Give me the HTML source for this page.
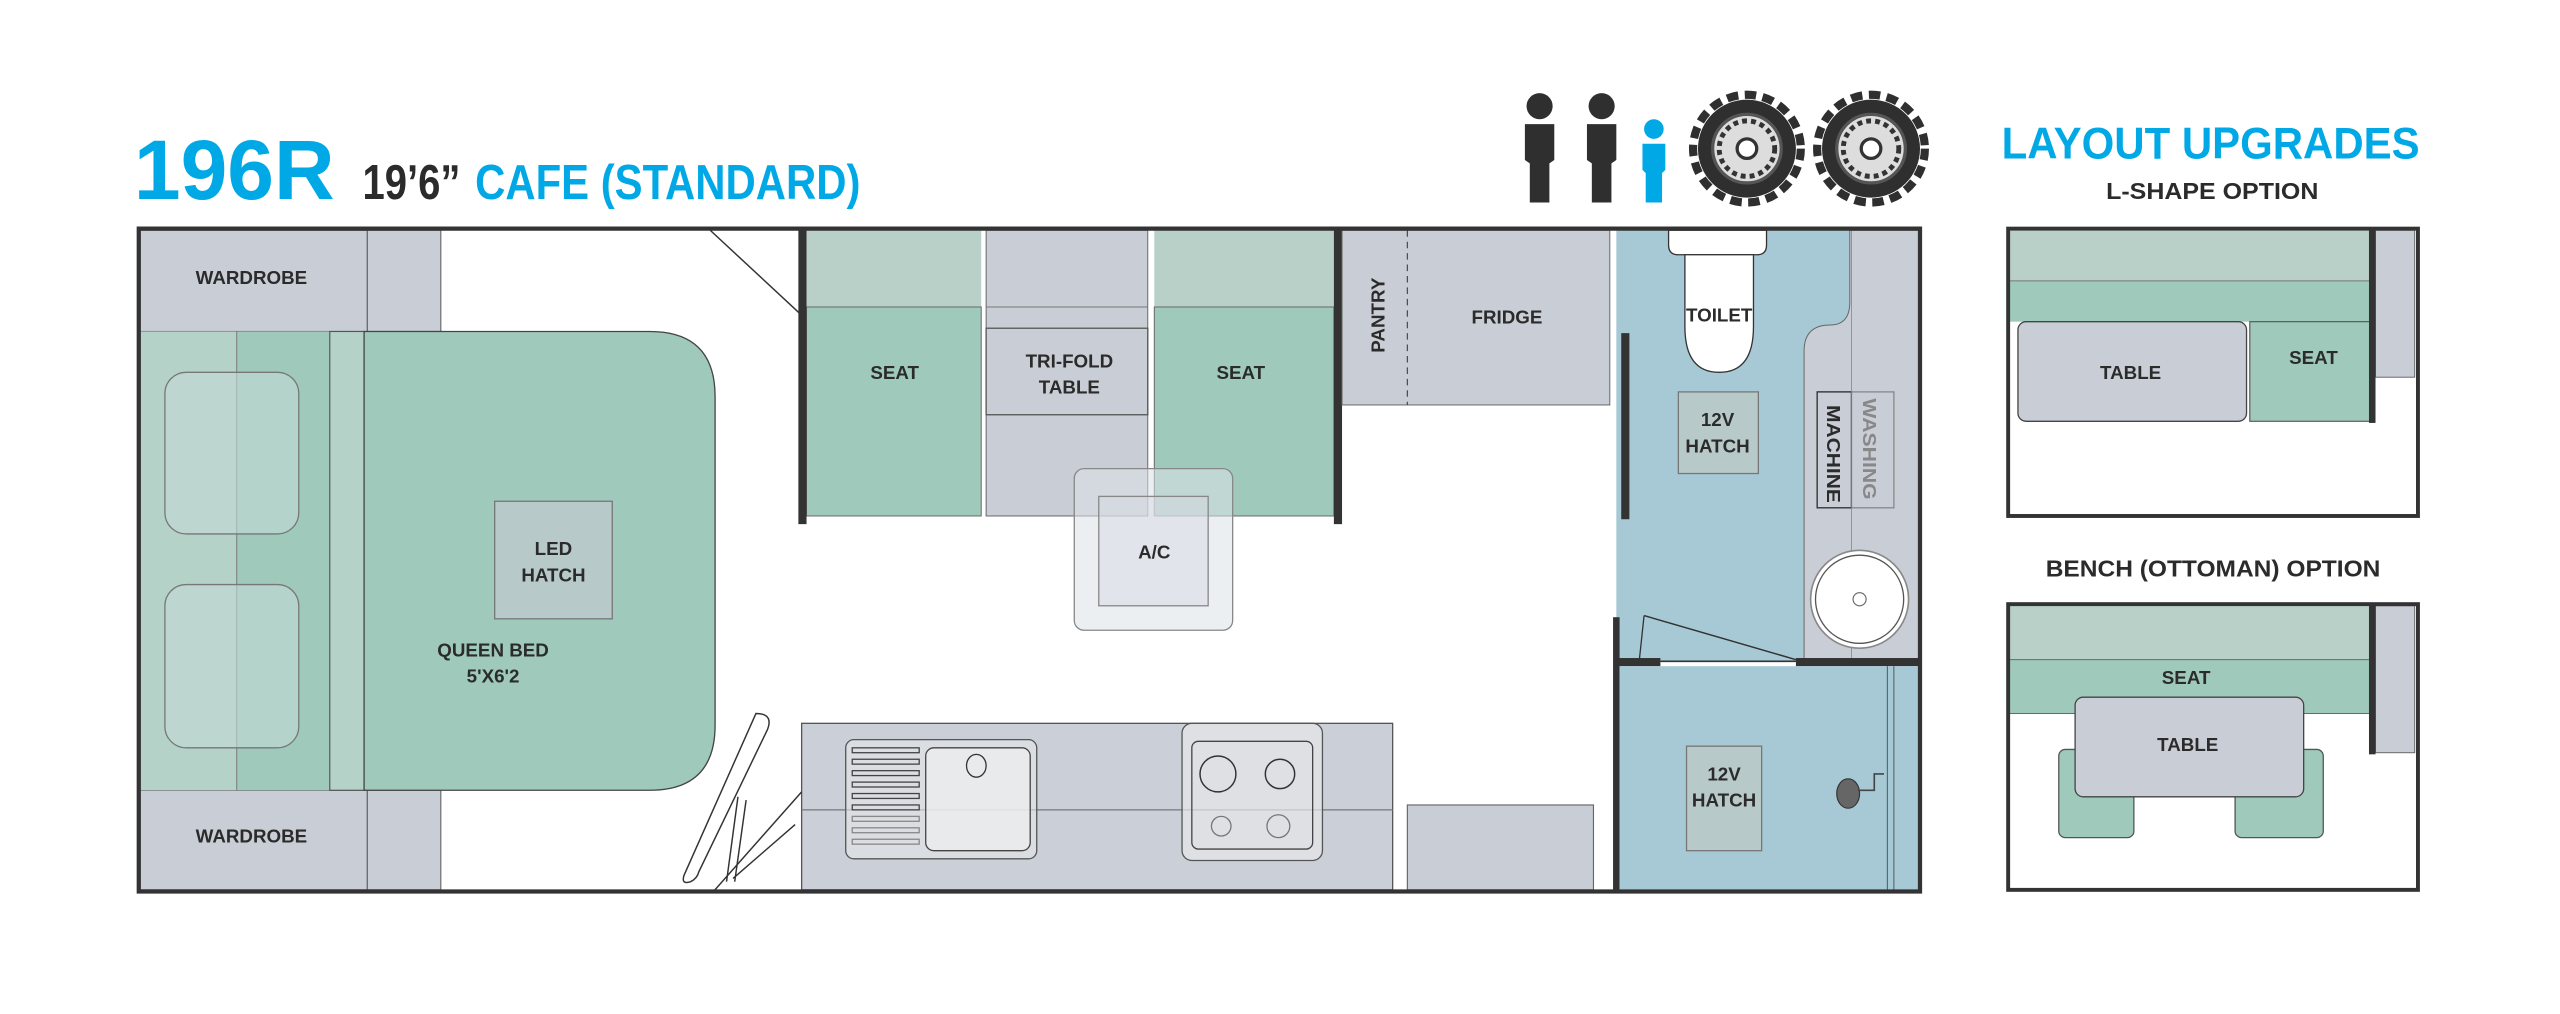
<!DOCTYPE html>
<html><head><meta charset="utf-8"><style>
html,body{margin:0;padding:0;background:#fff;}
svg{display:block}
text{font-family:"Liberation Sans",sans-serif;font-weight:bold;fill:#2b2b2b;}
.l{font-size:11.5px;text-anchor:middle}
</style></head><body>
<svg width="2560" height="1014" viewBox="0 0 1568 621" xmlns="http://www.w3.org/2000/svg">
<rect width="1568" height="621" fill="#fff"/>
<!-- titles -->
<text x="82" y="122" style="font-size:52px;fill:#00a9e6" textLength="123" lengthAdjust="spacingAndGlyphs">196R</text>
<text x="222" y="122" style="font-size:30px;fill:#2b2b2b" textLength="60" lengthAdjust="spacingAndGlyphs">19’6”</text>
<text x="291" y="122" style="font-size:30px;fill:#00a9e6" textLength="236" lengthAdjust="spacingAndGlyphs">CAFE (STANDARD)</text>
<text x="1226" y="97" style="font-size:27px;fill:#00a9e6" textLength="256" lengthAdjust="spacingAndGlyphs">LAYOUT UPGRADES</text>
<text x="1290" y="122" style="font-size:14px" textLength="130" lengthAdjust="spacingAndGlyphs">L-SHAPE OPTION</text>
<text x="1253" y="353" style="font-size:14px" textLength="205" lengthAdjust="spacingAndGlyphs">BENCH (OTTOMAN) OPTION</text>

<!-- icons: people -->
<g fill="#2f2f2f">
<circle cx="943" cy="65" r="8"/><path d="M934 76h18v22l-3 2v24h-12v-24l-3-2z"/>
<circle cx="981" cy="65" r="8"/><path d="M972 76h18v22l-3 2v24h-12v-24l-3-2z"/>
</g>
<g fill="#00a9e6"><circle cx="1013" cy="79" r="6"/><path d="M1006 88h14v16l-2 2v18h-10v-18l-2-2z"/></g>
<!-- tyres -->
<g>
<circle cx="1070" cy="91" r="30" fill="#2f2f2f"/><circle cx="1070" cy="91" r="33" fill="none" stroke="#2f2f2f" stroke-width="5" stroke-dasharray="7 4"/><circle cx="1070" cy="91" r="21" fill="#ddd" stroke="#555" stroke-width="2"/><circle cx="1070" cy="91" r="17" fill="none" stroke="#333" stroke-width="3" stroke-dasharray="3 2.5"/><circle cx="1070" cy="91" r="6" fill="#fff" stroke="#333" stroke-width="2"/>
<circle cx="1146" cy="91" r="30" fill="#2f2f2f"/><circle cx="1146" cy="91" r="33" fill="none" stroke="#2f2f2f" stroke-width="5" stroke-dasharray="7 4"/><circle cx="1146" cy="91" r="21" fill="#ddd" stroke="#555" stroke-width="2"/><circle cx="1146" cy="91" r="17" fill="none" stroke="#333" stroke-width="3" stroke-dasharray="3 2.5"/><circle cx="1146" cy="91" r="6" fill="#fff" stroke="#333" stroke-width="2"/>
</g>

<!-- wardrobes -->
<rect x="85" y="141" width="140" height="62" fill="#c9ced6" stroke="#666" stroke-width="0.7"/>
<rect x="225" y="141" width="45" height="62" fill="#c9ced6" stroke="#666" stroke-width="0.7"/>
<rect x="85" y="484" width="140" height="61" fill="#c9ced6" stroke="#666" stroke-width="0.7"/>
<rect x="225" y="484" width="45" height="61" fill="#c9ced6" stroke="#666" stroke-width="0.7"/>
<text class="l" x="154" y="174">WARDROBE</text>
<text class="l" x="154" y="516">WARDROBE</text>
<!-- bed -->
<rect x="85" y="203" width="60" height="281" fill="#b5d2c9"/>
<rect x="145" y="203" width="57" height="281" fill="#9fcabb"/>
<rect x="202" y="203" width="21" height="281" fill="#b5d2c9" stroke="#555" stroke-width="0.7"/>
<path d="M223 203H398Q438 203 438 243V444Q438 484 398 484H223Z" fill="#9fcabb" stroke="#444" stroke-width="0.8"/>
<line x1="145" y1="203" x2="145" y2="484" stroke="#777" stroke-width="0.6"/>
<rect x="101" y="228" width="82" height="99" rx="13" fill="#c3d8d3" fill-opacity="0.6" stroke="#777" stroke-width="0.8"/>
<rect x="101" y="358" width="82" height="100" rx="13" fill="#c3d8d3" fill-opacity="0.6" stroke="#777" stroke-width="0.8"/>
<rect x="303" y="307" width="72" height="72" fill="#b8c9ca" stroke="#777" stroke-width="0.8"/>
<text class="l" x="339" y="340">LED</text><text class="l" x="339" y="356">HATCH</text>
<text class="l" x="302" y="402">QUEEN BED</text><text class="l" x="302" y="418">5'X6'2</text>
<line x1="435" y1="141" x2="491" y2="193" stroke="#333" stroke-width="0.9"/>
<!-- dinette -->
<rect x="494" y="141" width="107" height="47" fill="#b8d0c8"/>
<rect x="494" y="188" width="107" height="128" fill="#9fcabb" stroke="#666" stroke-width="0.6"/>
<rect x="604" y="141" width="99" height="175" fill="#c9ced6" stroke="#666" stroke-width="0.6"/>
<line x1="604" y1="188" x2="703" y2="188" stroke="#777" stroke-width="0.6"/>
<rect x="604" y="201" width="99" height="53" fill="#c9ced6" stroke="#555" stroke-width="0.8"/>
<rect x="707" y="141" width="110" height="47" fill="#b8d0c8"/>
<rect x="707" y="188" width="110" height="128" fill="#9fcabb" stroke="#666" stroke-width="0.6"/>
<text class="l" x="548" y="232">SEAT</text>
<text class="l" x="760" y="232">SEAT</text>
<text class="l" x="655" y="225">TRI-FOLD</text><text class="l" x="655" y="241">TABLE</text>
<rect x="489" y="141" width="5" height="180" fill="#333"/>
<rect x="817" y="141" width="5" height="180" fill="#333"/>
<!-- A/C -->
<rect x="658" y="287" width="97" height="99" rx="6" fill="#dde1e8" fill-opacity="0.55" stroke="#888" stroke-width="0.8"/>
<rect x="673" y="304" width="67" height="67" fill="#d6dae1" fill-opacity="0.5" stroke="#888" stroke-width="0.8"/>
<text class="l" x="707" y="342">A/C</text>
<!-- pantry/fridge -->
<rect x="822" y="141" width="164" height="107" fill="#c9ced6" stroke="#666" stroke-width="0.6"/>
<line x1="862" y1="141" x2="862" y2="248" stroke="#444" stroke-width="0.7" stroke-dasharray="4 3"/>
<text class="l" transform="translate(848,193) rotate(-90)">PANTRY</text>
<text class="l" x="923" y="198">FRIDGE</text>
<!-- bathroom -->
<rect x="990" y="141" width="186" height="264" fill="#a7c9d5"/>
<path d="M1133 141H1176V405H1105V215Q1105 199 1121 199Q1133 199 1133 185Z" fill="#c9ced6" stroke="#666" stroke-width="0.6"/>
<path d="M1022 141H1082V150Q1082 156 1076 156H1028Q1022 156 1022 150Z" fill="#fff" stroke="#333" stroke-width="0.8"/>
<path d="M1032 156H1074V200Q1074 228 1053 228Q1032 228 1032 200Z" fill="#fff" stroke="#333" stroke-width="0.8"/>
<text class="l" x="1053" y="197">TOILET</text>
<rect x="1028" y="240" width="49" height="50" fill="#b8c9ca" stroke="#777" stroke-width="0.8"/>
<text class="l" x="1052" y="261">12V</text><text class="l" x="1052" y="277">HATCH</text>
<rect x="1113" y="240" width="47" height="71" fill="none" stroke="#888" stroke-width="0.8"/>
<rect x="1113" y="240" width="21" height="71" fill="none" stroke="#333" stroke-width="0.8"/>
<line x1="1134" y1="141" x2="1134" y2="405" stroke="#888" stroke-width="0.5"/>
<text class="l" transform="translate(1119,248) rotate(90)" style="text-anchor:start" textLength="60" lengthAdjust="spacingAndGlyphs">MACHINE</text>
<text class="l" transform="translate(1141,244) rotate(90)" style="text-anchor:start;fill:#888" textLength="62" lengthAdjust="spacingAndGlyphs">WASHING</text>
<circle cx="1139" cy="367" r="30" fill="#fff" stroke="#888" stroke-width="1"/>
<circle cx="1139" cy="367" r="27" fill="none" stroke="#555" stroke-width="0.8"/>
<circle cx="1139" cy="367" r="4" fill="none" stroke="#666" stroke-width="0.7"/>
<rect x="993" y="204" width="5" height="114" fill="#333"/>
<rect x="988" y="378" width="4" height="168" fill="#333"/>
<rect x="990" y="403" width="27" height="5" fill="#333"/>
<rect x="1100" y="403" width="76" height="5" fill="#333"/>
<line x1="1017" y1="405" x2="1100" y2="405" stroke="#333" stroke-width="1"/>
<line x1="1007" y1="377" x2="1100" y2="404" stroke="#333" stroke-width="0.9"/>
<line x1="1007" y1="377" x2="1004" y2="405" stroke="#333" stroke-width="0.8"/>
<!-- shower -->
<rect x="992" y="408" width="184" height="137" fill="#a7c9d5"/>
<line x1="1156" y1="408" x2="1156" y2="545" stroke="#555" stroke-width="0.6"/>
<line x1="1160" y1="408" x2="1160" y2="545" stroke="#555" stroke-width="0.6"/>
<rect x="1033" y="457" width="46" height="64" fill="#b8c9ca" stroke="#777" stroke-width="0.8"/>
<text class="l" x="1056" y="478">12V</text><text class="l" x="1056" y="494">HATCH</text>
<ellipse cx="1132" cy="486" rx="7" ry="9" fill="#666" stroke="#333" stroke-width="0.7"/>
<path d="M1138 484h10v-10h6M1148 480v-6" fill="none" stroke="#444" stroke-width="1"/>
<!-- kitchen -->
<rect x="491" y="443" width="362" height="102" fill="#cbd0d8" stroke="#555" stroke-width="0.8"/>
<line x1="491" y1="496" x2="853" y2="496" stroke="#777" stroke-width="0.8"/>
<rect x="518" y="453" width="117" height="73" rx="5" fill="#e4e6ea" fill-opacity="0.6" stroke="#555" stroke-width="0.8"/>
<rect x="567" y="458" width="64" height="63" rx="5" fill="#efefef" fill-opacity="0.7" stroke="#444" stroke-width="0.8"/>
<ellipse cx="598" cy="469" rx="6" ry="7" fill="none" stroke="#333" stroke-width="0.8"/>
<g fill="none" stroke="#444" stroke-width="0.8">
<rect x="522" y="458" width="41" height="3"/><rect x="522" y="465" width="41" height="3"/><rect x="522" y="472" width="41" height="3"/><rect x="522" y="479" width="41" height="3"/><rect x="522" y="486" width="41" height="3"/><rect x="522" y="493" width="41" height="3"/>
<rect x="522" y="500" width="41" height="3" stroke="#888"/><rect x="522" y="507" width="41" height="3" stroke="#888"/><rect x="522" y="514" width="41" height="3" stroke="#888"/>
</g>
<rect x="724" y="443" width="86" height="84" rx="6" fill="#e6e7ea" fill-opacity="0.7" stroke="#555" stroke-width="0.8"/>
<rect x="730" y="454" width="74" height="66" rx="4" fill="none" stroke="#444" stroke-width="0.8"/>
<circle cx="746" cy="474" r="11" fill="none" stroke="#333" stroke-width="0.9"/>
<circle cx="784" cy="474" r="9" fill="none" stroke="#333" stroke-width="0.9"/>
<circle cx="748" cy="506" r="6" fill="none" stroke="#777" stroke-width="0.8"/>
<circle cx="783" cy="506" r="7" fill="none" stroke="#777" stroke-width="0.8"/>
<rect x="862" y="493" width="114" height="52" fill="#c9ced6" stroke="#666" stroke-width="0.7"/>
<!-- fold table -->
<g fill="none" stroke="#333" stroke-width="0.9">
<path d="M463 437L419 536Q417 542 423 540Q427 538 428 534L470 447Q474 437 463 437Z"/>
<line x1="452" y1="488" x2="445" y2="540"/>
<line x1="457" y1="490" x2="450" y2="540"/>
<line x1="491" y1="485" x2="437" y2="546"/>
<line x1="487" y1="505" x2="449" y2="538"/>
</g>
<rect x="85" y="140" width="1091" height="406" fill="none" stroke="#333" stroke-width="2.6"/>

<!-- L-shape option -->
<rect x="1230" y="141" width="223" height="31" fill="#b8d0c8"/>
<rect x="1230" y="172" width="223" height="25" fill="#9fcabb"/>
<rect x="1378" y="197" width="75" height="61" fill="#9fcabb" stroke="#555" stroke-width="0.7"/>
<line x1="1230" y1="172" x2="1453" y2="172" stroke="#777" stroke-width="0.6"/>
<rect x="1236" y="197" width="140" height="61" rx="5" fill="#c9ced6" stroke="#444" stroke-width="0.8"/>
<rect x="1455" y="141" width="24" height="90" fill="#c9ced6" stroke="#666" stroke-width="0.6"/>
<rect x="1451" y="141" width="4" height="118" fill="#333"/>
<text class="l" x="1305" y="232">TABLE</text>
<text class="l" x="1417" y="223">SEAT</text>
<rect x="1230" y="140" width="251" height="176" fill="none" stroke="#333" stroke-width="2.4"/>

<!-- bench option -->
<rect x="1230" y="371" width="223" height="33" fill="#b8d0c8"/>
<rect x="1230" y="404" width="223" height="33" fill="#9fcabb" stroke="#666" stroke-width="0.6"/>
<rect x="1261" y="459" width="46" height="54" rx="4" fill="#9fcabb" stroke="#555" stroke-width="0.8"/>
<rect x="1369" y="459" width="54" height="54" rx="4" fill="#9fcabb" stroke="#555" stroke-width="0.8"/>
<rect x="1271" y="427" width="140" height="61" rx="5" fill="#c9ced6" stroke="#444" stroke-width="0.8"/>
<rect x="1455" y="371" width="24" height="90" fill="#c9ced6" stroke="#666" stroke-width="0.6"/>
<rect x="1451" y="371" width="4" height="91" fill="#333"/>
<text class="l" x="1339" y="419">SEAT</text>
<text class="l" x="1340" y="460">TABLE</text>
<rect x="1230" y="370" width="251" height="175" fill="none" stroke="#333" stroke-width="2.4"/>
</svg>
</body></html>
